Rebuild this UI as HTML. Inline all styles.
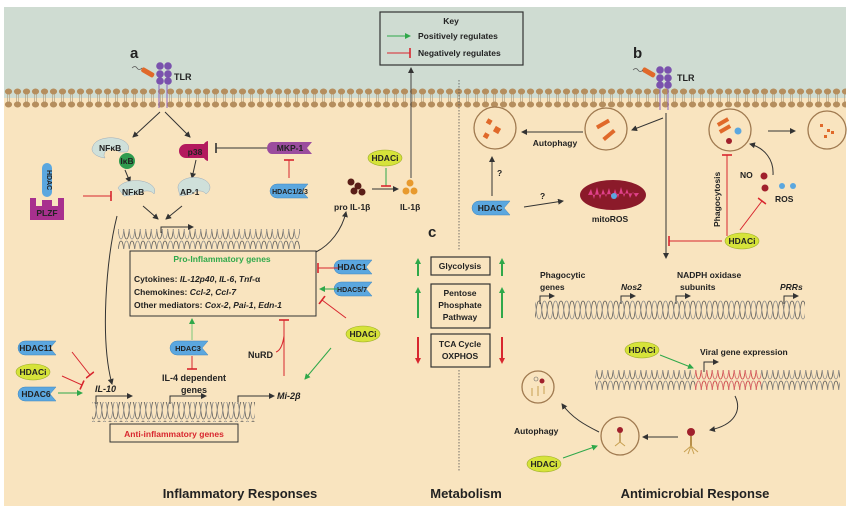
<!DOCTYPE html>
<html><head><meta charset="utf-8"><style>
html,body{margin:0;padding:0;background:#fff}
svg{display:block}
text{font-family:"Liberation Sans",sans-serif;font-weight:bold;fill:#222}
.s{font-size:8.5px}
.m{font-size:9px}
.i{font-style:italic}
</style></head><body>
<svg width="850" height="509" viewBox="0 0 850 509" xmlns="http://www.w3.org/2000/svg">
<defs>
<pattern id="mem" x="4" y="0" width="9" height="509" patternUnits="userSpaceOnUse">
<line x1="3.5" y1="92" x2="3.5" y2="104" stroke="#b9a98c" stroke-width="0.8"/>
<line x1="5.5" y1="92" x2="5.5" y2="104" stroke="#b9a98c" stroke-width="0.8"/>
<ellipse cx="4.5" cy="91.5" rx="3.6" ry="3" fill="#b58e5e"/>
<ellipse cx="4.5" cy="104.5" rx="3.6" ry="3" fill="#b58e5e"/>
</pattern>
<pattern id="dna" x="0" y="0" width="11" height="20" patternUnits="userSpaceOnUse">
<path d="M0,1 C3.5,1 2,19 5.5,19 C9,19 7.5,1 11,1" fill="none" stroke="#555" stroke-width="0.7"/>
<path d="M0,19 C3.5,19 2,1 5.5,1 C9,1 7.5,19 11,19" fill="none" stroke="#888" stroke-width="0.7"/>
</pattern>
<pattern id="dnar" x="0" y="0" width="11" height="20" patternUnits="userSpaceOnUse">
<path d="M0,1 C3.5,1 2,19 5.5,19 C9,19 7.5,1 11,1" fill="none" stroke="#e05050" stroke-width="0.8"/>
<path d="M0,19 C3.5,19 2,1 5.5,1 C9,1 7.5,19 11,19" fill="none" stroke="#e07070" stroke-width="0.8"/>
</pattern>
<marker id="ak" markerUnits="userSpaceOnUse" markerWidth="6" markerHeight="6" refX="5" refY="3" orient="auto"><path d="M0,0 L6,3 L0,6 Z" fill="#333"/></marker>
<marker id="ag" markerUnits="userSpaceOnUse" markerWidth="6" markerHeight="6" refX="5" refY="3" orient="auto"><path d="M0,0 L6,3 L0,6 Z" fill="#2fa84a"/></marker>
<marker id="ag2" markerUnits="userSpaceOnUse" markerWidth="6" markerHeight="6" refX="4" refY="3" orient="auto"><path d="M0,0 L6,3 L0,6 Z" fill="#2fa84a"/></marker>
<marker id="ar2" markerUnits="userSpaceOnUse" markerWidth="6" markerHeight="6" refX="4" refY="3" orient="auto"><path d="M0,0 L6,3 L0,6 Z" fill="#d8262e"/></marker>
<marker id="tr" markerUnits="userSpaceOnUse" markerWidth="4" markerHeight="10" refX="2" refY="5" orient="auto"><line x1="2" y1="0" x2="2" y2="10" stroke="#d8262e" stroke-width="1.6"/></marker>
<marker id="tk" markerUnits="userSpaceOnUse" markerWidth="4" markerHeight="10" refX="2" refY="5" orient="auto"><line x1="2" y1="0" x2="2" y2="10" stroke="#333" stroke-width="1.6"/></marker>
<path id="hd" d="M-13,-7 H18 L12,0 L18,7 H-13 A7,7 0 0 1 -13,-7 Z" fill="#5ba7df" stroke="#3f86bf" stroke-width="0.5"/>
<ellipse id="hi" cx="0" cy="0" rx="17" ry="8" fill="#d6e33a" stroke="#9aab28" stroke-width="0.6"/>
</defs>

<rect x="0" y="0" width="850" height="509" fill="#fff"/>
<rect x="4" y="7" width="842" height="91" fill="#cfdcd2"/>
<rect x="4" y="98" width="842" height="408" fill="#f9e4bf"/>
<rect x="4" y="85" width="842" height="25" fill="url(#mem)"/>

<line x1="459" y1="80" x2="459" y2="250" stroke="#555" stroke-width="0.8" stroke-dasharray="1.5,1.5"/>
<line x1="459" y1="370" x2="459" y2="472" stroke="#555" stroke-width="0.8" stroke-dasharray="1.5,1.5"/>

<rect x="380" y="12" width="143" height="53" fill="#cfdcd2" stroke="#333" stroke-width="1.2"/>
<text x="451" y="24" class="s" text-anchor="middle">Key</text>
<line x1="387" y1="36" x2="410" y2="36" stroke="#2fa84a" stroke-width="1" marker-end="url(#ag)"/>
<text x="418" y="39" class="s">Positively regulates</text>
<line x1="387" y1="53" x2="410" y2="53" stroke="#d8262e" stroke-width="1" marker-end="url(#tr)"/>
<text x="418" y="56" class="s">Negatively regulates</text>

<text x="130" y="58" style="font-size:15px">a</text>
<text x="633" y="58" style="font-size:15px">b</text>
<text x="428" y="237" style="font-size:15px">c</text>

<g fill="#7a52ad"><circle cx="160" cy="66" r="3.8"/><circle cx="168" cy="66" r="3.8"/><circle cx="160" cy="74" r="3.8"/><circle cx="168" cy="74" r="3.8"/><circle cx="160" cy="81" r="3.8"/><circle cx="168" cy="81" r="3.8"/></g>
<line x1="159" y1="85" x2="159" y2="108" stroke="#8a64c0" stroke-width="1"/><line x1="167" y1="85" x2="167" y2="108" stroke="#8a64c0" stroke-width="1"/>
<text x="174" y="80" class="m">TLR</text>
<rect x="141" y="70" width="14" height="5" rx="2" fill="#e0692a" transform="rotate(30 148 72)"/>
<path d="M132,68 q3,-3 5,0 t5,0" stroke="#555" fill="none" stroke-width="0.7"/>

<g fill="#7a52ad"><circle cx="660" cy="70" r="3.8"/><circle cx="668" cy="70" r="3.8"/><circle cx="660" cy="78" r="3.8"/><circle cx="668" cy="78" r="3.8"/><circle cx="660" cy="85" r="3.8"/><circle cx="668" cy="85" r="3.8"/></g>
<line x1="660" y1="88" x2="660" y2="110" stroke="#8a64c0"/><line x1="668" y1="88" x2="668" y2="110" stroke="#8a64c0"/>
<text x="677" y="81" class="m">TLR</text>
<rect x="642" y="70" width="14" height="5" rx="2" fill="#e0692a" transform="rotate(30 649 72)"/>
<path d="M633,70 q3,-3 5,0 t5,0" stroke="#555" fill="none" stroke-width="0.7"/>

<line x1="160" y1="112" x2="133" y2="137" stroke="#333" marker-end="url(#ak)"/>
<line x1="165" y1="112" x2="190" y2="137" stroke="#333" marker-end="url(#ak)"/>
<path d="M93,146 a18,10 0 1 1 34,6 l-8,0 a8,6 0 0 0 -14,6 a16,9 0 0 1 -12,-12 Z" fill="#cfe0da" stroke="#9ab" stroke-width="0.5"/>
<text x="99" y="151" class="s">NFκB</text>
<circle cx="127" cy="161" r="8" fill="#2f9b4e"/>
<text x="127" y="164" class="s" text-anchor="middle">IκB</text>
<path d="M186,144 h18 a6,5 0 0 1 4,-3 v20 a6,5 0 0 1 -4,-3 h-18 a7,7 0 0 1 0,-14 Z" fill="#b3195e"/>
<text x="195" y="155" class="s" text-anchor="middle">p38</text>
<line x1="268" y1="148" x2="216" y2="148" stroke="#333" marker-end="url(#tk)"/>
<path d="M272,142 h40 l-5,6 l5,6 h-40 a5,6 0 0 1 0,-12 Z" fill="#9b4c9e"/>
<text x="290" y="151" class="s" text-anchor="middle">MKP-1</text>
<line x1="289" y1="178" x2="289" y2="160" stroke="#d8262e" marker-end="url(#tr)"/>
<use href="#hd" x="290" y="191"/>
<text x="290" y="194" style="font-size:7px" text-anchor="middle">HDAC1/2/3</text>
<line x1="125" y1="170" x2="130" y2="182" stroke="#333" marker-end="url(#ak)"/>
<line x1="196" y1="160" x2="192" y2="178" stroke="#333" marker-end="url(#ak)"/>
<path d="M118,188 a18,10 0 1 1 36,6 a8,6 0 0 0 -14,0 l-16,2 Z" fill="#cfe0da" stroke="#9ab" stroke-width="0.5"/>
<text x="122" y="195" class="s">NFκB</text>
<path d="M178,188 a16,10 0 1 1 28,6 a8,6 0 0 0 -14,0 l-12,2 Z" fill="#cfe0da" stroke="#9ab" stroke-width="0.5"/>
<text x="180" y="195" class="s">AP-1</text>
<line x1="143" y1="206" x2="158" y2="219" stroke="#333" marker-end="url(#ak)"/>
<line x1="182" y1="206" x2="166" y2="219" stroke="#333" marker-end="url(#ak)"/>
<path d="M161,233 v-6 h32" stroke="#333" fill="none" marker-end="url(#ak)"/>
<rect x="118" y="229" width="182" height="20" fill="url(#dna)"/>
<rect x="42" y="163" width="10" height="34" rx="5" fill="#5ba7df"/>
<text x="47" y="170" style="font-size:7px" transform="rotate(90 47 170)">HDAC</text>
<path d="M30,198 h6 v8 h6 v-6 h10 v6 h6 v-8 h6 v22 h-34 Z" fill="#a8308e"/>
<text x="47" y="216" class="s" text-anchor="middle">PLZF</text>
<line x1="83" y1="196" x2="111" y2="196" stroke="#d8262e" marker-end="url(#tr)"/>
<path d="M117,216 C106,260 100,340 112,384" stroke="#333" fill="none" marker-end="url(#ak)"/>

<g fill="#5a1e18"><circle cx="351" cy="182" r="3.5"/><circle cx="358" cy="186" r="3.5"/><circle cx="354" cy="191" r="3.5"/><circle cx="362" cy="192" r="3.5"/></g>
<g fill="#e89a2e"><circle cx="410" cy="183" r="3.5"/><circle cx="406" cy="191" r="3.5"/><circle cx="414" cy="191" r="3.5"/></g>
<line x1="372" y1="189" x2="398" y2="189" stroke="#333" marker-end="url(#ak)"/>
<use href="#hi" x="385" y="158"/>
<text x="385" y="161" class="s" text-anchor="middle">HDACi</text>
<line x1="386" y1="168" x2="386" y2="186" stroke="#2fa84a" marker-end="url(#tr)"/>
<text x="334" y="210" class="s">pro IL-1β</text>
<text x="400" y="210" class="s">IL-1β</text>
<line x1="411" y1="178" x2="411" y2="68" stroke="#444" marker-end="url(#ak)"/>
<path d="M316,252 C330,245 342,230 346,212" stroke="#333" fill="none" marker-end="url(#ak)"/>

<rect x="130" y="251" width="186" height="65" fill="none" stroke="#333" stroke-width="1"/>
<text x="222" y="262" class="s" text-anchor="middle" style="fill:#2fa84a">Pro-Inflammatory genes</text>
<text x="134" y="282" class="s">Cytokines: <tspan class="i">IL-12p40</tspan>, <tspan class="i">IL-6</tspan>, <tspan class="i">Tnf</tspan>-α</text>
<text x="134" y="295" class="s">Chemokines: <tspan class="i">Ccl-2</tspan>, <tspan class="i">Ccl-7</tspan></text>
<text x="134" y="308" class="s">Other mediators: <tspan class="i">Cox-2</tspan>, <tspan class="i">Pai-1</tspan>, <tspan class="i">Edn-1</tspan></text>
<use href="#hd" x="354" y="267"/><text x="352" y="270" class="s" text-anchor="middle">HDAC1</text>
<line x1="338" y1="268" x2="318" y2="268" stroke="#d8262e" marker-end="url(#tr)"/>
<use href="#hd" x="354" y="289"/><text x="352" y="292" style="font-size:7px" text-anchor="middle">HDAC5/7</text>
<line x1="338" y1="289" x2="320" y2="289" stroke="#2fa84a" marker-end="url(#ag)"/>
<use href="#hi" x="363" y="334"/><text x="363" y="337" class="s" text-anchor="middle">HDACi</text>
<line x1="346" y1="318" x2="322" y2="300" stroke="#d8262e" marker-end="url(#tr)"/>
<line x1="331" y1="348" x2="305" y2="379" stroke="#2fa84a" marker-end="url(#ag)"/>
<use href="#hd" x="190" y="348"/><text x="188" y="351" style="font-size:7.5px" text-anchor="middle">HDAC3</text>
<line x1="192" y1="340" x2="192" y2="319" stroke="#7ac87a" marker-end="url(#ag)"/>
<line x1="192" y1="356" x2="192" y2="369" stroke="#d8262e" marker-end="url(#tr)"/>
<text x="194" y="381" class="m" text-anchor="middle">IL-4 dependent</text>
<text x="194" y="393" class="m" text-anchor="middle">genes</text>
<text x="248" y="358" class="m">NuRD</text>
<path d="M284,376 V320" stroke="#d8262e" fill="none" marker-end="url(#tr)"/>
<path d="M284,336 q-2,14 -8,16" stroke="#d8262e" fill="none"/>
<text x="277" y="399" class="m i">Mi-2β</text>
<text x="95" y="392" class="m i">IL-10</text>
<path d="M96,404 v-8 h36" stroke="#333" fill="none" marker-end="url(#ak)"/>
<path d="M170,404 v-8 h36" stroke="#333" fill="none" marker-end="url(#ak)"/>
<path d="M238,404 v-8 h36" stroke="#333" fill="none" marker-end="url(#ak)"/>
<rect x="92" y="402" width="163" height="20" fill="url(#dna)"/>
<rect x="110" y="424" width="128" height="18" fill="none" stroke="#333"/>
<text x="174" y="437" class="s" text-anchor="middle" style="fill:#d8262e">Anti-inflammatory genes</text>
<use href="#hd" x="38" y="348"/><text x="36" y="351" class="s" text-anchor="middle">HDAC11</text>
<use href="#hi" x="33" y="372"/><text x="33" y="375" class="s" text-anchor="middle">HDACi</text>
<use href="#hd" x="38" y="394"/><text x="36" y="397" class="s" text-anchor="middle">HDAC6</text>
<line x1="72" y1="352" x2="90" y2="375" stroke="#d8262e" marker-end="url(#tr)"/>
<line x1="62" y1="376" x2="82" y2="385" stroke="#d8262e" marker-end="url(#tr)"/>
<line x1="58" y1="393" x2="82" y2="393" stroke="#2fa84a" marker-end="url(#ag)"/>

<rect x="431" y="257" width="59" height="18" fill="none" stroke="#333" stroke-width="1.2"/>
<text x="460" y="269" class="s" text-anchor="middle">Glycolysis</text>
<rect x="431" y="284" width="59" height="44" fill="none" stroke="#333" stroke-width="1.2"/>
<text x="460" y="296" class="s" text-anchor="middle">Pentose</text>
<text x="460" y="308" class="s" text-anchor="middle">Phosphate</text>
<text x="460" y="320" class="s" text-anchor="middle">Pathway</text>
<rect x="431" y="334" width="59" height="33" fill="none" stroke="#333" stroke-width="1.2"/>
<text x="460" y="347" class="s" text-anchor="middle">TCA Cycle</text>
<text x="460" y="359" class="s" text-anchor="middle">OXPHOS</text>
<g stroke-width="2">
<line x1="418" y1="276" x2="418" y2="260" stroke="#2fa84a" marker-end="url(#ag2)"/>
<line x1="418" y1="318" x2="418" y2="289" stroke="#2fa84a" marker-end="url(#ag2)"/>
<line x1="418" y1="337" x2="418" y2="362" stroke="#d8262e" marker-end="url(#ar2)"/>
<line x1="502" y1="276" x2="502" y2="260" stroke="#2fa84a" marker-end="url(#ag2)"/>
<line x1="502" y1="318" x2="502" y2="289" stroke="#2fa84a" marker-end="url(#ag2)"/>
<line x1="502" y1="337" x2="502" y2="362" stroke="#d8262e" marker-end="url(#ar2)"/>
</g>

<g fill="none" stroke="#a07a50" stroke-width="1.3">
<circle cx="495" cy="128" r="21"/><circle cx="606" cy="129" r="21"/><circle cx="730" cy="130" r="21"/><circle cx="827" cy="130" r="19"/>
</g>
<g fill="#e0692a">
<rect x="487" y="119" width="5" height="5" transform="rotate(30 489 121)"/><rect x="494" y="127" width="6" height="6" transform="rotate(30 497 130)"/><rect x="484" y="133" width="5" height="5" transform="rotate(30 486 135)"/>
<rect x="596" y="122" width="14" height="4" transform="rotate(-30 603 124)"/><rect x="602" y="133" width="14" height="4" transform="rotate(-40 609 135)"/>
<rect x="717" y="120" width="12" height="4" transform="rotate(-30 723 122)"/><rect x="719" y="127" width="12" height="4" transform="rotate(-30 725 129)"/>
<rect x="820" y="124" width="3" height="3"/><rect x="827" y="129" width="3" height="3"/><rect x="831" y="131" width="3" height="3"/><rect x="824" y="135" width="3" height="3"/>
</g>
<circle cx="738" cy="131" r="3.5" fill="#5ba7df"/><circle cx="729" cy="141" r="3" fill="#a0202c"/>
<line x1="583" y1="132" x2="522" y2="132" stroke="#333" marker-end="url(#ak)"/>
<text x="555" y="146" class="s" text-anchor="middle">Autophagy</text>
<line x1="663" y1="118" x2="632" y2="130" stroke="#333" marker-end="url(#ak)"/>
<line x1="666" y1="113" x2="666" y2="258" stroke="#333" marker-end="url(#ak)"/>
<line x1="768" y1="131" x2="795" y2="131" stroke="#333" marker-end="url(#ak)"/>
<use href="#hd" x="492" y="208"/><text x="490" y="211" class="s" text-anchor="middle">HDAC</text>
<line x1="492" y1="196" x2="492" y2="157" stroke="#333" marker-end="url(#ak)"/>
<text x="497" y="176" class="s">?</text>
<line x1="524" y1="207" x2="563" y2="201" stroke="#333" marker-end="url(#ak)"/>
<text x="540" y="199" class="s">?</text>
<ellipse cx="613" cy="195" rx="33" ry="15" fill="#8b1a2a"/>
<path d="M588,195 l3,-6 l3,10 l3,-12 l3,12 l3,-10 l3,8 l3,-9 l3,11 l3,-10 l3,9 l3,-11 l3,10 l3,-8 l3,9 l3,-6 l3,5 l3,-4 Z" fill="#e0408a"/>
<circle cx="614" cy="196" r="3" fill="#5ba7df"/>
<text x="610" y="222" class="s" text-anchor="middle">mitoROS</text>
<text x="720" y="227" class="s" transform="rotate(-90 720 227)">Phagocytosis</text>
<line x1="727" y1="236" x2="727" y2="155" stroke="#d8262e" marker-end="url(#tr)"/>
<text x="740" y="178" class="s">NO</text>
<circle cx="764" cy="176" r="3.5" fill="#a0202c"/><circle cx="765" cy="188" r="3.5" fill="#a0202c"/>
<circle cx="782" cy="186" r="3" fill="#5ba7df"/><circle cx="793" cy="186" r="3" fill="#5ba7df"/>
<text x="775" y="202" class="s">ROS</text>
<path d="M773,175 C774,160 765,148 750,144" stroke="#333" fill="none" marker-end="url(#ak)"/>
<use href="#hi" x="742" y="241"/><text x="742" y="244" class="s" text-anchor="middle">HDACi</text>
<line x1="740" y1="230" x2="762" y2="201" stroke="#d8262e" marker-end="url(#tr)"/>
<line x1="722" y1="241" x2="669" y2="241" stroke="#d8262e" marker-end="url(#tr)"/>

<text x="540" y="278" class="s">Phagocytic</text>
<text x="540" y="290" class="s">genes</text>
<text x="621" y="290" class="s i">Nos2</text>
<text x="677" y="278" class="s">NADPH oxidase</text>
<text x="680" y="290" class="s">subunits</text>
<text x="780" y="290" class="s i">PRRs</text>
<path d="M540,304 v-8 h14" stroke="#333" fill="none" marker-end="url(#ak)"/>
<path d="M621,304 v-8 h14" stroke="#333" fill="none" marker-end="url(#ak)"/>
<path d="M676,304 v-8 h14" stroke="#333" fill="none" marker-end="url(#ak)"/>
<path d="M784,304 v-8 h14" stroke="#333" fill="none" marker-end="url(#ak)"/>
<rect x="535" y="300" width="270" height="20" fill="url(#dna)"/>

<use href="#hi" x="642" y="350"/><text x="642" y="353" class="s" text-anchor="middle">HDACi</text>
<line x1="660" y1="355" x2="693" y2="368" stroke="#2fa84a" marker-end="url(#ag)"/>
<text x="700" y="355" class="s">Viral gene expression</text>
<path d="M704,372 v-10 h14" stroke="#333" fill="none" marker-end="url(#ak)"/>
<rect x="595" y="370" width="245" height="20" fill="url(#dna)"/>
<rect x="695" y="370" width="66" height="20" fill="url(#dnar)"/>
<path d="M735,396 C742,410 735,425 710,430" stroke="#333" fill="none" marker-end="url(#ak)"/>
<circle cx="691" cy="432" r="4" fill="#a0202c"/>
<line x1="691" y1="436" x2="691" y2="446" stroke="#b8904a" stroke-width="2"/>
<path d="M684,452 l7,-6 l7,6 M688,454 l3,-8 l3,8" stroke="#c8a050" fill="none"/>
<line x1="678" y1="437" x2="643" y2="437" stroke="#333" marker-end="url(#ak)"/>
<circle cx="620" cy="436" r="19" fill="none" stroke="#a07a50" stroke-width="1.3"/>
<circle cx="620" cy="430" r="3" fill="#a0202c"/><line x1="620" y1="433" x2="620" y2="442" stroke="#b8904a" stroke-width="1.5"/>
<path d="M615,446 l5,-4 l5,4" stroke="#c8a050" fill="none"/>
<path d="M599,432 C585,425 572,418 562,404" stroke="#333" fill="none" marker-end="url(#ak)"/>
<circle cx="538" cy="387" r="16" fill="none" stroke="#a07a50" stroke-width="1.3"/>
<circle cx="542" cy="381" r="2.5" fill="#a0202c"/><circle cx="536" cy="379" r="2" fill="none" stroke="#666" stroke-width="0.6"/>
<path d="M532,388 v8 M538,386 v10 M544,386 v8" stroke="#c8a050" fill="none"/>
<text x="514" y="434" class="s">Autophagy</text>
<use href="#hi" x="544" y="464"/><text x="544" y="467" class="s" text-anchor="middle">HDACi</text>
<line x1="563" y1="458" x2="597" y2="446" stroke="#2fa84a" marker-end="url(#ag)"/>

<text x="240" y="498" style="font-size:13px" text-anchor="middle">Inflammatory Responses</text>
<text x="466" y="498" style="font-size:13px" text-anchor="middle">Metabolism</text>
<text x="695" y="498" style="font-size:13px" text-anchor="middle">Antimicrobial Response</text>
</svg>
</body></html>
